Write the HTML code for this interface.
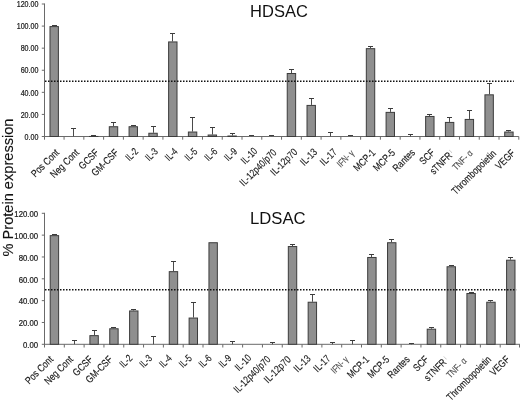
<!DOCTYPE html>
<html lang="en"><head><meta charset="utf-8"><title>Protein expression</title>
<style>html,body{margin:0;padding:0;background:#fff}svg{display:block;will-change:transform;-webkit-font-smoothing:antialiased}</style></head>
<body>
<svg width="520" height="401" viewBox="0 0 520 401" font-family="'Liberation Sans', Arial, sans-serif">
<rect width="520" height="401" fill="#fff"/>
<line x1="44.5" y1="3.50" x2="44.5" y2="137.00" stroke="#6a6a6a" stroke-width="1"/>
<line x1="44.0" y1="136.50" x2="518.8" y2="136.50" stroke="#6a6a6a" stroke-width="1"/>
<line x1="41.8" y1="136.50" x2="44.5" y2="136.50" stroke="#6a6a6a" stroke-width="1"/>
<text transform="translate(38.4,139.70) scale(0.725,1)" text-anchor="end" font-size="9.8" fill="#1a1a1a" stroke="#1a1a1a" stroke-width="0.25">0.00</text>
<line x1="41.8" y1="114.42" x2="44.5" y2="114.42" stroke="#6a6a6a" stroke-width="1"/>
<text transform="translate(38.4,117.62) scale(0.725,1)" text-anchor="end" font-size="9.8" fill="#1a1a1a" stroke="#1a1a1a" stroke-width="0.25">20.00</text>
<line x1="41.8" y1="92.33" x2="44.5" y2="92.33" stroke="#6a6a6a" stroke-width="1"/>
<text transform="translate(38.4,95.53) scale(0.725,1)" text-anchor="end" font-size="9.8" fill="#1a1a1a" stroke="#1a1a1a" stroke-width="0.25">40.00</text>
<line x1="41.8" y1="70.25" x2="44.5" y2="70.25" stroke="#6a6a6a" stroke-width="1"/>
<text transform="translate(38.4,73.45) scale(0.725,1)" text-anchor="end" font-size="9.8" fill="#1a1a1a" stroke="#1a1a1a" stroke-width="0.25">60.00</text>
<line x1="41.8" y1="48.17" x2="44.5" y2="48.17" stroke="#6a6a6a" stroke-width="1"/>
<text transform="translate(38.4,51.37) scale(0.725,1)" text-anchor="end" font-size="9.8" fill="#1a1a1a" stroke="#1a1a1a" stroke-width="0.25">80.00</text>
<line x1="41.8" y1="26.08" x2="44.5" y2="26.08" stroke="#6a6a6a" stroke-width="1"/>
<text transform="translate(38.4,29.28) scale(0.725,1)" text-anchor="end" font-size="9.8" fill="#1a1a1a" stroke="#1a1a1a" stroke-width="0.25">100.00</text>
<line x1="41.8" y1="4.00" x2="44.5" y2="4.00" stroke="#6a6a6a" stroke-width="1"/>
<text transform="translate(38.4,7.20) scale(0.725,1)" text-anchor="end" font-size="9.8" fill="#1a1a1a" stroke="#1a1a1a" stroke-width="0.25">120.00</text>
<line x1="44.50" y1="136.50" x2="44.50" y2="139.70" stroke="#6a6a6a" stroke-width="1"/>
<line x1="64.07" y1="136.50" x2="64.07" y2="139.70" stroke="#6a6a6a" stroke-width="1"/>
<line x1="83.84" y1="136.50" x2="83.84" y2="139.70" stroke="#6a6a6a" stroke-width="1"/>
<line x1="103.61" y1="136.50" x2="103.61" y2="139.70" stroke="#6a6a6a" stroke-width="1"/>
<line x1="123.38" y1="136.50" x2="123.38" y2="139.70" stroke="#6a6a6a" stroke-width="1"/>
<line x1="143.15" y1="136.50" x2="143.15" y2="139.70" stroke="#6a6a6a" stroke-width="1"/>
<line x1="162.93" y1="136.50" x2="162.93" y2="139.70" stroke="#6a6a6a" stroke-width="1"/>
<line x1="182.70" y1="136.50" x2="182.70" y2="139.70" stroke="#6a6a6a" stroke-width="1"/>
<line x1="202.47" y1="136.50" x2="202.47" y2="139.70" stroke="#6a6a6a" stroke-width="1"/>
<line x1="222.24" y1="136.50" x2="222.24" y2="139.70" stroke="#6a6a6a" stroke-width="1"/>
<line x1="242.01" y1="136.50" x2="242.01" y2="139.70" stroke="#6a6a6a" stroke-width="1"/>
<line x1="261.78" y1="136.50" x2="261.78" y2="139.70" stroke="#6a6a6a" stroke-width="1"/>
<line x1="281.55" y1="136.50" x2="281.55" y2="139.70" stroke="#6a6a6a" stroke-width="1"/>
<line x1="301.32" y1="136.50" x2="301.32" y2="139.70" stroke="#6a6a6a" stroke-width="1"/>
<line x1="321.09" y1="136.50" x2="321.09" y2="139.70" stroke="#6a6a6a" stroke-width="1"/>
<line x1="340.86" y1="136.50" x2="340.86" y2="139.70" stroke="#6a6a6a" stroke-width="1"/>
<line x1="360.63" y1="136.50" x2="360.63" y2="139.70" stroke="#6a6a6a" stroke-width="1"/>
<line x1="380.40" y1="136.50" x2="380.40" y2="139.70" stroke="#6a6a6a" stroke-width="1"/>
<line x1="400.18" y1="136.50" x2="400.18" y2="139.70" stroke="#6a6a6a" stroke-width="1"/>
<line x1="419.95" y1="136.50" x2="419.95" y2="139.70" stroke="#6a6a6a" stroke-width="1"/>
<line x1="439.72" y1="136.50" x2="439.72" y2="139.70" stroke="#6a6a6a" stroke-width="1"/>
<line x1="459.49" y1="136.50" x2="459.49" y2="139.70" stroke="#6a6a6a" stroke-width="1"/>
<line x1="479.26" y1="136.50" x2="479.26" y2="139.70" stroke="#6a6a6a" stroke-width="1"/>
<line x1="499.03" y1="136.50" x2="499.03" y2="139.70" stroke="#6a6a6a" stroke-width="1"/>
<line x1="518.80" y1="136.50" x2="518.80" y2="139.70" stroke="#6a6a6a" stroke-width="1"/>
<line x1="54.50" y1="25.50" x2="54.50" y2="26.08" stroke="#4a4a4a" stroke-width="1"/>
<line x1="52.00" y1="25.50" x2="57.00" y2="25.50" stroke="#3c3c3c" stroke-width="1"/>
<rect x="49.99" y="26.58" width="8.40" height="109.92" fill="#8f8f8f" stroke="#3c3c3c" stroke-width="1"/>
<line x1="73.50" y1="128.50" x2="73.50" y2="136.50" stroke="#4a4a4a" stroke-width="1"/>
<line x1="71.00" y1="128.50" x2="76.00" y2="128.50" stroke="#3c3c3c" stroke-width="1"/>
<line x1="93.50" y1="135.50" x2="93.50" y2="135.95" stroke="#4a4a4a" stroke-width="1"/>
<line x1="91.00" y1="135.50" x2="96.00" y2="135.50" stroke="#3c3c3c" stroke-width="1"/>
<rect x="89.53" y="136.45" width="8.40" height="0.05" fill="#8f8f8f" stroke="#3c3c3c" stroke-width="1"/>
<line x1="113.50" y1="122.50" x2="113.50" y2="126.23" stroke="#4a4a4a" stroke-width="1"/>
<line x1="111.00" y1="122.50" x2="116.00" y2="122.50" stroke="#3c3c3c" stroke-width="1"/>
<rect x="109.30" y="126.73" width="8.40" height="9.77" fill="#8f8f8f" stroke="#3c3c3c" stroke-width="1"/>
<line x1="133.50" y1="125.50" x2="133.50" y2="126.23" stroke="#4a4a4a" stroke-width="1"/>
<line x1="131.00" y1="125.50" x2="136.00" y2="125.50" stroke="#3c3c3c" stroke-width="1"/>
<rect x="129.07" y="126.73" width="8.40" height="9.77" fill="#8f8f8f" stroke="#3c3c3c" stroke-width="1"/>
<line x1="153.50" y1="126.50" x2="153.50" y2="132.75" stroke="#4a4a4a" stroke-width="1"/>
<line x1="151.00" y1="126.50" x2="156.00" y2="126.50" stroke="#3c3c3c" stroke-width="1"/>
<rect x="148.84" y="133.25" width="8.40" height="3.25" fill="#8f8f8f" stroke="#3c3c3c" stroke-width="1"/>
<line x1="172.50" y1="33.50" x2="172.50" y2="41.43" stroke="#4a4a4a" stroke-width="1"/>
<line x1="170.00" y1="33.50" x2="175.00" y2="33.50" stroke="#3c3c3c" stroke-width="1"/>
<rect x="168.61" y="41.93" width="8.40" height="94.57" fill="#8f8f8f" stroke="#3c3c3c" stroke-width="1"/>
<line x1="192.50" y1="117.50" x2="192.50" y2="131.53" stroke="#4a4a4a" stroke-width="1"/>
<line x1="190.00" y1="117.50" x2="195.00" y2="117.50" stroke="#3c3c3c" stroke-width="1"/>
<rect x="188.38" y="132.03" width="8.40" height="4.47" fill="#8f8f8f" stroke="#3c3c3c" stroke-width="1"/>
<line x1="212.50" y1="127.50" x2="212.50" y2="134.51" stroke="#4a4a4a" stroke-width="1"/>
<line x1="210.00" y1="127.50" x2="215.00" y2="127.50" stroke="#3c3c3c" stroke-width="1"/>
<rect x="208.15" y="135.01" width="8.40" height="1.49" fill="#8f8f8f" stroke="#3c3c3c" stroke-width="1"/>
<line x1="232.50" y1="133.50" x2="232.50" y2="135.51" stroke="#4a4a4a" stroke-width="1"/>
<line x1="230.00" y1="133.50" x2="235.00" y2="133.50" stroke="#3c3c3c" stroke-width="1"/>
<rect x="227.92" y="136.01" width="8.40" height="0.49" fill="#8f8f8f" stroke="#3c3c3c" stroke-width="1"/>
<line x1="251.50" y1="135.50" x2="251.50" y2="136.17" stroke="#4a4a4a" stroke-width="1"/>
<line x1="249.00" y1="135.50" x2="254.00" y2="135.50" stroke="#3c3c3c" stroke-width="1"/>
<rect x="247.69" y="136.67" width="8.40" height="-0.17" fill="#8f8f8f" stroke="#3c3c3c" stroke-width="1"/>
<line x1="271.50" y1="135.50" x2="271.50" y2="136.17" stroke="#4a4a4a" stroke-width="1"/>
<line x1="269.00" y1="135.50" x2="274.00" y2="135.50" stroke="#3c3c3c" stroke-width="1"/>
<rect x="267.46" y="136.67" width="8.40" height="-0.17" fill="#8f8f8f" stroke="#3c3c3c" stroke-width="1"/>
<line x1="291.50" y1="69.50" x2="291.50" y2="73.01" stroke="#4a4a4a" stroke-width="1"/>
<line x1="289.00" y1="69.50" x2="294.00" y2="69.50" stroke="#3c3c3c" stroke-width="1"/>
<rect x="287.24" y="73.51" width="8.40" height="62.99" fill="#8f8f8f" stroke="#3c3c3c" stroke-width="1"/>
<line x1="311.50" y1="98.50" x2="311.50" y2="104.92" stroke="#4a4a4a" stroke-width="1"/>
<line x1="309.00" y1="98.50" x2="314.00" y2="98.50" stroke="#3c3c3c" stroke-width="1"/>
<rect x="307.01" y="105.42" width="8.40" height="31.08" fill="#8f8f8f" stroke="#3c3c3c" stroke-width="1"/>
<line x1="330.50" y1="132.50" x2="330.50" y2="136.50" stroke="#4a4a4a" stroke-width="1"/>
<line x1="328.00" y1="132.50" x2="333.00" y2="132.50" stroke="#3c3c3c" stroke-width="1"/>
<line x1="350.50" y1="135.50" x2="350.50" y2="136.17" stroke="#4a4a4a" stroke-width="1"/>
<line x1="348.00" y1="135.50" x2="353.00" y2="135.50" stroke="#3c3c3c" stroke-width="1"/>
<rect x="346.55" y="136.67" width="8.40" height="-0.17" fill="#8f8f8f" stroke="#3c3c3c" stroke-width="1"/>
<line x1="370.50" y1="46.50" x2="370.50" y2="48.17" stroke="#4a4a4a" stroke-width="1"/>
<line x1="368.00" y1="46.50" x2="373.00" y2="46.50" stroke="#3c3c3c" stroke-width="1"/>
<rect x="366.32" y="48.67" width="8.40" height="87.83" fill="#8f8f8f" stroke="#3c3c3c" stroke-width="1"/>
<line x1="390.50" y1="108.50" x2="390.50" y2="111.88" stroke="#4a4a4a" stroke-width="1"/>
<line x1="388.00" y1="108.50" x2="393.00" y2="108.50" stroke="#3c3c3c" stroke-width="1"/>
<rect x="386.09" y="112.38" width="8.40" height="24.12" fill="#8f8f8f" stroke="#3c3c3c" stroke-width="1"/>
<line x1="410.50" y1="134.50" x2="410.50" y2="136.50" stroke="#4a4a4a" stroke-width="1"/>
<line x1="408.00" y1="134.50" x2="413.00" y2="134.50" stroke="#3c3c3c" stroke-width="1"/>
<line x1="429.50" y1="114.50" x2="429.50" y2="115.96" stroke="#4a4a4a" stroke-width="1"/>
<line x1="427.00" y1="114.50" x2="432.00" y2="114.50" stroke="#3c3c3c" stroke-width="1"/>
<rect x="425.63" y="116.46" width="8.40" height="20.04" fill="#8f8f8f" stroke="#3c3c3c" stroke-width="1"/>
<line x1="449.50" y1="117.50" x2="449.50" y2="121.92" stroke="#4a4a4a" stroke-width="1"/>
<line x1="447.00" y1="117.50" x2="452.00" y2="117.50" stroke="#3c3c3c" stroke-width="1"/>
<rect x="445.40" y="122.42" width="8.40" height="14.08" fill="#8f8f8f" stroke="#3c3c3c" stroke-width="1"/>
<line x1="469.50" y1="110.50" x2="469.50" y2="118.94" stroke="#4a4a4a" stroke-width="1"/>
<line x1="467.00" y1="110.50" x2="472.00" y2="110.50" stroke="#3c3c3c" stroke-width="1"/>
<rect x="465.17" y="119.44" width="8.40" height="17.06" fill="#8f8f8f" stroke="#3c3c3c" stroke-width="1"/>
<line x1="489.50" y1="83.50" x2="489.50" y2="94.32" stroke="#4a4a4a" stroke-width="1"/>
<line x1="487.00" y1="83.50" x2="492.00" y2="83.50" stroke="#3c3c3c" stroke-width="1"/>
<rect x="484.94" y="94.82" width="8.40" height="41.68" fill="#8f8f8f" stroke="#3c3c3c" stroke-width="1"/>
<line x1="508.50" y1="130.50" x2="508.50" y2="131.53" stroke="#4a4a4a" stroke-width="1"/>
<line x1="506.00" y1="130.50" x2="511.00" y2="130.50" stroke="#3c3c3c" stroke-width="1"/>
<rect x="504.71" y="132.03" width="8.40" height="4.47" fill="#8f8f8f" stroke="#3c3c3c" stroke-width="1"/>
<line x1="45.00" y1="81.29" x2="513.8" y2="81.29" stroke="#111" stroke-width="1.5" stroke-dasharray="1.5 1.5"/>
<text transform="translate(59.79,153.30) rotate(-45) scale(0.820,1)" text-anchor="end" font-size="10.3" fill="#1a1a1a" stroke="#1a1a1a" stroke-width="0.15">Pos Cont</text>
<text transform="translate(79.56,153.30) rotate(-45) scale(0.820,1)" text-anchor="end" font-size="10.3" fill="#1a1a1a" stroke="#1a1a1a" stroke-width="0.15">Neg Cont</text>
<text transform="translate(99.33,153.30) rotate(-45) scale(0.820,1)" text-anchor="end" font-size="10.3" fill="#1a1a1a" stroke="#1a1a1a" stroke-width="0.15">GCSF</text>
<text transform="translate(119.10,153.30) rotate(-45) scale(0.820,1)" text-anchor="end" font-size="10.3" fill="#1a1a1a" stroke="#1a1a1a" stroke-width="0.15">GM-CSF</text>
<text transform="translate(138.87,152.10) rotate(-45) scale(0.755,1)" text-anchor="end" font-size="10.3" fill="#1a1a1a" stroke="#1a1a1a" stroke-width="0.15">IL-2</text>
<text transform="translate(158.64,152.10) rotate(-45) scale(0.755,1)" text-anchor="end" font-size="10.3" fill="#1a1a1a" stroke="#1a1a1a" stroke-width="0.15">IL-3</text>
<text transform="translate(178.41,152.10) rotate(-45) scale(0.755,1)" text-anchor="end" font-size="10.3" fill="#1a1a1a" stroke="#1a1a1a" stroke-width="0.15">IL-4</text>
<text transform="translate(198.18,152.10) rotate(-45) scale(0.755,1)" text-anchor="end" font-size="10.3" fill="#1a1a1a" stroke="#1a1a1a" stroke-width="0.15">IL-5</text>
<text transform="translate(217.95,152.10) rotate(-45) scale(0.755,1)" text-anchor="end" font-size="10.3" fill="#1a1a1a" stroke="#1a1a1a" stroke-width="0.15">IL-6</text>
<text transform="translate(237.72,152.10) rotate(-45) scale(0.755,1)" text-anchor="end" font-size="10.3" fill="#1a1a1a" stroke="#1a1a1a" stroke-width="0.15">IL-9</text>
<text transform="translate(257.99,151.80) rotate(-45) scale(0.779,1)" text-anchor="end" font-size="10.3" fill="#1a1a1a" stroke="#1a1a1a" stroke-width="0.15">IL-10</text>
<text transform="translate(277.26,153.30) rotate(-45) scale(0.779,1)" text-anchor="end" font-size="10.3" fill="#1a1a1a" stroke="#1a1a1a" stroke-width="0.15">IL-12p40/p70</text>
<text transform="translate(298.04,152.60) rotate(-45) scale(0.820,1)" text-anchor="end" font-size="10.3" fill="#1a1a1a" stroke="#1a1a1a" stroke-width="0.15">IL-12p70</text>
<text transform="translate(317.81,152.60) rotate(-45) scale(0.820,1)" text-anchor="end" font-size="10.3" fill="#1a1a1a" stroke="#1a1a1a" stroke-width="0.15">IL-13</text>
<text transform="translate(337.58,152.60) rotate(-45) scale(0.820,1)" text-anchor="end" font-size="10.3" fill="#1a1a1a" stroke="#1a1a1a" stroke-width="0.15">IL-17</text>
<text transform="translate(354.85,153.80) rotate(-45) scale(0.766,1)" text-anchor="end" font-size="9.6" fill="#505050" stroke="#505050" stroke-width="0.1">IFN- γ</text>
<text transform="translate(376.12,153.30) rotate(-45) scale(0.820,1)" text-anchor="end" font-size="10.3" fill="#1a1a1a" stroke="#1a1a1a" stroke-width="0.15">MCP-1</text>
<text transform="translate(395.89,153.30) rotate(-45) scale(0.820,1)" text-anchor="end" font-size="10.3" fill="#1a1a1a" stroke="#1a1a1a" stroke-width="0.15">MCP-5</text>
<text transform="translate(415.66,153.30) rotate(-45) scale(0.820,1)" text-anchor="end" font-size="10.3" fill="#1a1a1a" stroke="#1a1a1a" stroke-width="0.15">Rantes</text>
<text transform="translate(435.43,153.30) rotate(-45) scale(0.820,1)" text-anchor="end" font-size="10.3" fill="#1a1a1a" stroke="#1a1a1a" stroke-width="0.15">SCF</text>
<text transform="translate(454.70,154.30) rotate(-45) scale(0.820,1)" text-anchor="end" font-size="10.3" fill="#1a1a1a" stroke="#1a1a1a" stroke-width="0.15">sTNFR<tspan dy="-3" font-size="6" fill="#b5b5b5" stroke="none"> I</tspan></text>
<text transform="translate(473.47,153.80) rotate(-45) scale(0.810,1)" text-anchor="end" font-size="9.6" fill="#505050" stroke="#505050" stroke-width="0.1">TNF- α</text>
<text transform="translate(496.74,154.10) rotate(-45) scale(0.812,1)" text-anchor="end" font-size="10.3" fill="#1a1a1a" stroke="#1a1a1a" stroke-width="0.15">Thrombopoietin</text>
<text transform="translate(515.71,153.80) rotate(-45) scale(0.820,1)" text-anchor="end" font-size="10.3" fill="#1a1a1a" stroke="#1a1a1a" stroke-width="0.15">VEGF</text>
<text x="279.0" y="17.1" text-anchor="middle" font-size="16.5" fill="#111">HDSAC</text>
<line x1="44.5" y1="212.80" x2="44.5" y2="344.80" stroke="#6a6a6a" stroke-width="1"/>
<line x1="44.0" y1="344.30" x2="520.0" y2="344.30" stroke="#6a6a6a" stroke-width="1"/>
<line x1="41.8" y1="344.30" x2="44.5" y2="344.30" stroke="#6a6a6a" stroke-width="1"/>
<text transform="translate(38.1,348.10) scale(0.794,1)" text-anchor="end" font-size="9.8" fill="#1a1a1a" stroke="#1a1a1a" stroke-width="0.25">0.00</text>
<line x1="41.8" y1="322.47" x2="44.5" y2="322.47" stroke="#6a6a6a" stroke-width="1"/>
<text transform="translate(38.1,326.27) scale(0.794,1)" text-anchor="end" font-size="9.8" fill="#1a1a1a" stroke="#1a1a1a" stroke-width="0.25">20.00</text>
<line x1="41.8" y1="300.63" x2="44.5" y2="300.63" stroke="#6a6a6a" stroke-width="1"/>
<text transform="translate(38.1,304.43) scale(0.794,1)" text-anchor="end" font-size="9.8" fill="#1a1a1a" stroke="#1a1a1a" stroke-width="0.25">40.00</text>
<line x1="41.8" y1="278.80" x2="44.5" y2="278.80" stroke="#6a6a6a" stroke-width="1"/>
<text transform="translate(38.1,282.60) scale(0.794,1)" text-anchor="end" font-size="9.8" fill="#1a1a1a" stroke="#1a1a1a" stroke-width="0.25">60.00</text>
<line x1="41.8" y1="256.97" x2="44.5" y2="256.97" stroke="#6a6a6a" stroke-width="1"/>
<text transform="translate(38.1,260.77) scale(0.794,1)" text-anchor="end" font-size="9.8" fill="#1a1a1a" stroke="#1a1a1a" stroke-width="0.25">80.00</text>
<line x1="41.8" y1="235.13" x2="44.5" y2="235.13" stroke="#6a6a6a" stroke-width="1"/>
<text transform="translate(38.1,238.93) scale(0.794,1)" text-anchor="end" font-size="9.8" fill="#1a1a1a" stroke="#1a1a1a" stroke-width="0.25">100.00</text>
<line x1="41.8" y1="213.30" x2="44.5" y2="213.30" stroke="#6a6a6a" stroke-width="1"/>
<text transform="translate(38.1,217.10) scale(0.794,1)" text-anchor="end" font-size="9.8" fill="#1a1a1a" stroke="#1a1a1a" stroke-width="0.25">120.00</text>
<line x1="44.50" y1="344.30" x2="44.50" y2="347.50" stroke="#6a6a6a" stroke-width="1"/>
<line x1="64.31" y1="344.30" x2="64.31" y2="347.50" stroke="#6a6a6a" stroke-width="1"/>
<line x1="84.12" y1="344.30" x2="84.12" y2="347.50" stroke="#6a6a6a" stroke-width="1"/>
<line x1="103.94" y1="344.30" x2="103.94" y2="347.50" stroke="#6a6a6a" stroke-width="1"/>
<line x1="123.75" y1="344.30" x2="123.75" y2="347.50" stroke="#6a6a6a" stroke-width="1"/>
<line x1="143.56" y1="344.30" x2="143.56" y2="347.50" stroke="#6a6a6a" stroke-width="1"/>
<line x1="163.38" y1="344.30" x2="163.38" y2="347.50" stroke="#6a6a6a" stroke-width="1"/>
<line x1="183.19" y1="344.30" x2="183.19" y2="347.50" stroke="#6a6a6a" stroke-width="1"/>
<line x1="203.00" y1="344.30" x2="203.00" y2="347.50" stroke="#6a6a6a" stroke-width="1"/>
<line x1="222.81" y1="344.30" x2="222.81" y2="347.50" stroke="#6a6a6a" stroke-width="1"/>
<line x1="242.62" y1="344.30" x2="242.62" y2="347.50" stroke="#6a6a6a" stroke-width="1"/>
<line x1="262.44" y1="344.30" x2="262.44" y2="347.50" stroke="#6a6a6a" stroke-width="1"/>
<line x1="282.25" y1="344.30" x2="282.25" y2="347.50" stroke="#6a6a6a" stroke-width="1"/>
<line x1="302.06" y1="344.30" x2="302.06" y2="347.50" stroke="#6a6a6a" stroke-width="1"/>
<line x1="321.88" y1="344.30" x2="321.88" y2="347.50" stroke="#6a6a6a" stroke-width="1"/>
<line x1="341.69" y1="344.30" x2="341.69" y2="347.50" stroke="#6a6a6a" stroke-width="1"/>
<line x1="361.50" y1="344.30" x2="361.50" y2="347.50" stroke="#6a6a6a" stroke-width="1"/>
<line x1="381.31" y1="344.30" x2="381.31" y2="347.50" stroke="#6a6a6a" stroke-width="1"/>
<line x1="401.12" y1="344.30" x2="401.12" y2="347.50" stroke="#6a6a6a" stroke-width="1"/>
<line x1="420.94" y1="344.30" x2="420.94" y2="347.50" stroke="#6a6a6a" stroke-width="1"/>
<line x1="440.75" y1="344.30" x2="440.75" y2="347.50" stroke="#6a6a6a" stroke-width="1"/>
<line x1="460.56" y1="344.30" x2="460.56" y2="347.50" stroke="#6a6a6a" stroke-width="1"/>
<line x1="480.38" y1="344.30" x2="480.38" y2="347.50" stroke="#6a6a6a" stroke-width="1"/>
<line x1="500.19" y1="344.30" x2="500.19" y2="347.50" stroke="#6a6a6a" stroke-width="1"/>
<line x1="519.50" y1="344.30" x2="519.50" y2="347.50" stroke="#6a6a6a" stroke-width="1"/>
<line x1="54.50" y1="234.50" x2="54.50" y2="235.13" stroke="#4a4a4a" stroke-width="1"/>
<line x1="52.00" y1="234.50" x2="57.00" y2="234.50" stroke="#3c3c3c" stroke-width="1"/>
<rect x="50.21" y="235.63" width="8.40" height="108.67" fill="#8f8f8f" stroke="#3c3c3c" stroke-width="1"/>
<line x1="74.50" y1="340.50" x2="74.50" y2="344.30" stroke="#4a4a4a" stroke-width="1"/>
<line x1="72.00" y1="340.50" x2="77.00" y2="340.50" stroke="#3c3c3c" stroke-width="1"/>
<line x1="94.50" y1="330.50" x2="94.50" y2="335.13" stroke="#4a4a4a" stroke-width="1"/>
<line x1="92.00" y1="330.50" x2="97.00" y2="330.50" stroke="#3c3c3c" stroke-width="1"/>
<rect x="89.89" y="335.63" width="8.40" height="8.67" fill="#8f8f8f" stroke="#3c3c3c" stroke-width="1"/>
<line x1="113.50" y1="327.50" x2="113.50" y2="328.25" stroke="#4a4a4a" stroke-width="1"/>
<line x1="111.00" y1="327.50" x2="116.00" y2="327.50" stroke="#3c3c3c" stroke-width="1"/>
<rect x="109.74" y="328.75" width="8.40" height="15.55" fill="#8f8f8f" stroke="#3c3c3c" stroke-width="1"/>
<line x1="133.50" y1="309.50" x2="133.50" y2="310.46" stroke="#4a4a4a" stroke-width="1"/>
<line x1="131.00" y1="309.50" x2="136.00" y2="309.50" stroke="#3c3c3c" stroke-width="1"/>
<rect x="129.58" y="310.96" width="8.40" height="33.34" fill="#8f8f8f" stroke="#3c3c3c" stroke-width="1"/>
<line x1="153.50" y1="336.50" x2="153.50" y2="344.30" stroke="#4a4a4a" stroke-width="1"/>
<line x1="151.00" y1="336.50" x2="156.00" y2="336.50" stroke="#3c3c3c" stroke-width="1"/>
<line x1="173.50" y1="261.50" x2="173.50" y2="271.16" stroke="#4a4a4a" stroke-width="1"/>
<line x1="171.00" y1="261.50" x2="176.00" y2="261.50" stroke="#3c3c3c" stroke-width="1"/>
<rect x="169.26" y="271.66" width="8.40" height="72.64" fill="#8f8f8f" stroke="#3c3c3c" stroke-width="1"/>
<line x1="193.50" y1="302.50" x2="193.50" y2="317.55" stroke="#4a4a4a" stroke-width="1"/>
<line x1="191.00" y1="302.50" x2="196.00" y2="302.50" stroke="#3c3c3c" stroke-width="1"/>
<rect x="189.11" y="318.05" width="8.40" height="26.25" fill="#8f8f8f" stroke="#3c3c3c" stroke-width="1"/>
<rect x="208.95" y="242.73" width="8.40" height="101.57" fill="#8f8f8f" stroke="#3c3c3c" stroke-width="1"/>
<line x1="232.50" y1="341.50" x2="232.50" y2="344.30" stroke="#4a4a4a" stroke-width="1"/>
<line x1="230.00" y1="341.50" x2="235.00" y2="341.50" stroke="#3c3c3c" stroke-width="1"/>
<line x1="272.50" y1="342.50" x2="272.50" y2="344.30" stroke="#4a4a4a" stroke-width="1"/>
<line x1="270.00" y1="342.50" x2="275.00" y2="342.50" stroke="#3c3c3c" stroke-width="1"/>
<line x1="292.50" y1="244.50" x2="292.50" y2="246.05" stroke="#4a4a4a" stroke-width="1"/>
<line x1="290.00" y1="244.50" x2="295.00" y2="244.50" stroke="#3c3c3c" stroke-width="1"/>
<rect x="288.32" y="246.55" width="8.40" height="97.75" fill="#8f8f8f" stroke="#3c3c3c" stroke-width="1"/>
<line x1="312.50" y1="294.50" x2="312.50" y2="301.73" stroke="#4a4a4a" stroke-width="1"/>
<line x1="310.00" y1="294.50" x2="315.00" y2="294.50" stroke="#3c3c3c" stroke-width="1"/>
<rect x="308.16" y="302.23" width="8.40" height="42.07" fill="#8f8f8f" stroke="#3c3c3c" stroke-width="1"/>
<line x1="332.50" y1="342.50" x2="332.50" y2="344.30" stroke="#4a4a4a" stroke-width="1"/>
<line x1="330.00" y1="342.50" x2="335.00" y2="342.50" stroke="#3c3c3c" stroke-width="1"/>
<line x1="352.50" y1="340.50" x2="352.50" y2="344.30" stroke="#4a4a4a" stroke-width="1"/>
<line x1="350.00" y1="340.50" x2="355.00" y2="340.50" stroke="#3c3c3c" stroke-width="1"/>
<line x1="371.50" y1="254.50" x2="371.50" y2="256.97" stroke="#4a4a4a" stroke-width="1"/>
<line x1="369.00" y1="254.50" x2="374.00" y2="254.50" stroke="#3c3c3c" stroke-width="1"/>
<rect x="367.69" y="257.47" width="8.40" height="86.83" fill="#8f8f8f" stroke="#3c3c3c" stroke-width="1"/>
<line x1="391.50" y1="239.50" x2="391.50" y2="242.23" stroke="#4a4a4a" stroke-width="1"/>
<line x1="389.00" y1="239.50" x2="394.00" y2="239.50" stroke="#3c3c3c" stroke-width="1"/>
<rect x="387.54" y="242.73" width="8.40" height="101.57" fill="#8f8f8f" stroke="#3c3c3c" stroke-width="1"/>
<line x1="411.50" y1="343.50" x2="411.50" y2="344.30" stroke="#4a4a4a" stroke-width="1"/>
<line x1="409.00" y1="343.50" x2="414.00" y2="343.50" stroke="#3c3c3c" stroke-width="1"/>
<line x1="431.50" y1="327.50" x2="431.50" y2="328.69" stroke="#4a4a4a" stroke-width="1"/>
<line x1="429.00" y1="327.50" x2="434.00" y2="327.50" stroke="#3c3c3c" stroke-width="1"/>
<rect x="427.22" y="329.19" width="8.40" height="15.11" fill="#8f8f8f" stroke="#3c3c3c" stroke-width="1"/>
<line x1="451.50" y1="265.50" x2="451.50" y2="266.25" stroke="#4a4a4a" stroke-width="1"/>
<line x1="449.00" y1="265.50" x2="454.00" y2="265.50" stroke="#3c3c3c" stroke-width="1"/>
<rect x="447.06" y="266.75" width="8.40" height="77.55" fill="#8f8f8f" stroke="#3c3c3c" stroke-width="1"/>
<line x1="471.50" y1="292.50" x2="471.50" y2="292.99" stroke="#4a4a4a" stroke-width="1"/>
<line x1="469.00" y1="292.50" x2="474.00" y2="292.50" stroke="#3c3c3c" stroke-width="1"/>
<rect x="466.91" y="293.49" width="8.40" height="50.81" fill="#8f8f8f" stroke="#3c3c3c" stroke-width="1"/>
<line x1="490.50" y1="300.50" x2="490.50" y2="301.73" stroke="#4a4a4a" stroke-width="1"/>
<line x1="488.00" y1="300.50" x2="493.00" y2="300.50" stroke="#3c3c3c" stroke-width="1"/>
<rect x="486.75" y="302.23" width="8.40" height="42.07" fill="#8f8f8f" stroke="#3c3c3c" stroke-width="1"/>
<line x1="510.50" y1="257.50" x2="510.50" y2="259.70" stroke="#4a4a4a" stroke-width="1"/>
<line x1="508.00" y1="257.50" x2="513.00" y2="257.50" stroke="#3c3c3c" stroke-width="1"/>
<rect x="506.59" y="260.20" width="8.40" height="84.10" fill="#8f8f8f" stroke="#3c3c3c" stroke-width="1"/>
<line x1="45.00" y1="289.72" x2="516.2" y2="289.72" stroke="#111" stroke-width="1.5" stroke-dasharray="1.5 1.5"/>
<text transform="translate(53.81,360.10) rotate(-45) scale(0.820,1)" text-anchor="end" font-size="10.3" fill="#1a1a1a" stroke="#1a1a1a" stroke-width="0.15">Pos Cont</text>
<text transform="translate(73.62,360.10) rotate(-45) scale(0.820,1)" text-anchor="end" font-size="10.3" fill="#1a1a1a" stroke="#1a1a1a" stroke-width="0.15">Neg Cont</text>
<text transform="translate(93.43,360.10) rotate(-45) scale(0.820,1)" text-anchor="end" font-size="10.3" fill="#1a1a1a" stroke="#1a1a1a" stroke-width="0.15">GCSF</text>
<text transform="translate(113.24,360.10) rotate(-45) scale(0.820,1)" text-anchor="end" font-size="10.3" fill="#1a1a1a" stroke="#1a1a1a" stroke-width="0.15">GM-CSF</text>
<text transform="translate(133.06,358.90) rotate(-45) scale(0.755,1)" text-anchor="end" font-size="10.3" fill="#1a1a1a" stroke="#1a1a1a" stroke-width="0.15">IL-2</text>
<text transform="translate(152.87,358.90) rotate(-45) scale(0.755,1)" text-anchor="end" font-size="10.3" fill="#1a1a1a" stroke="#1a1a1a" stroke-width="0.15">IL-3</text>
<text transform="translate(172.68,358.90) rotate(-45) scale(0.755,1)" text-anchor="end" font-size="10.3" fill="#1a1a1a" stroke="#1a1a1a" stroke-width="0.15">IL-4</text>
<text transform="translate(192.49,358.90) rotate(-45) scale(0.755,1)" text-anchor="end" font-size="10.3" fill="#1a1a1a" stroke="#1a1a1a" stroke-width="0.15">IL-5</text>
<text transform="translate(212.31,358.90) rotate(-45) scale(0.755,1)" text-anchor="end" font-size="10.3" fill="#1a1a1a" stroke="#1a1a1a" stroke-width="0.15">IL-6</text>
<text transform="translate(232.12,358.90) rotate(-45) scale(0.755,1)" text-anchor="end" font-size="10.3" fill="#1a1a1a" stroke="#1a1a1a" stroke-width="0.15">IL-9</text>
<text transform="translate(251.93,358.60) rotate(-45) scale(0.779,1)" text-anchor="end" font-size="10.3" fill="#1a1a1a" stroke="#1a1a1a" stroke-width="0.15">IL-10</text>
<text transform="translate(271.24,360.10) rotate(-45) scale(0.779,1)" text-anchor="end" font-size="10.3" fill="#1a1a1a" stroke="#1a1a1a" stroke-width="0.15">IL-12p40/p70</text>
<text transform="translate(291.56,360.10) rotate(-45) scale(0.820,1)" text-anchor="end" font-size="10.3" fill="#1a1a1a" stroke="#1a1a1a" stroke-width="0.15">IL-12p70</text>
<text transform="translate(311.37,359.10) rotate(-45) scale(0.820,1)" text-anchor="end" font-size="10.3" fill="#1a1a1a" stroke="#1a1a1a" stroke-width="0.15">IL-13</text>
<text transform="translate(331.18,359.10) rotate(-45) scale(0.820,1)" text-anchor="end" font-size="10.3" fill="#1a1a1a" stroke="#1a1a1a" stroke-width="0.15">IL-17</text>
<text transform="translate(348.99,360.10) rotate(-45) scale(0.766,1)" text-anchor="end" font-size="9.6" fill="#505050" stroke="#505050" stroke-width="0.1">IFN- γ</text>
<text transform="translate(369.81,360.10) rotate(-45) scale(0.820,1)" text-anchor="end" font-size="10.3" fill="#1a1a1a" stroke="#1a1a1a" stroke-width="0.15">MCP-1</text>
<text transform="translate(390.12,360.10) rotate(-45) scale(0.820,1)" text-anchor="end" font-size="10.3" fill="#1a1a1a" stroke="#1a1a1a" stroke-width="0.15">MCP-5</text>
<text transform="translate(410.43,360.10) rotate(-45) scale(0.820,1)" text-anchor="end" font-size="10.3" fill="#1a1a1a" stroke="#1a1a1a" stroke-width="0.15">Rantes</text>
<text transform="translate(429.24,360.10) rotate(-45) scale(0.820,1)" text-anchor="end" font-size="10.3" fill="#1a1a1a" stroke="#1a1a1a" stroke-width="0.15">SCF</text>
<text transform="translate(449.06,360.90) rotate(-45) scale(0.820,1)" text-anchor="end" font-size="10.3" fill="#1a1a1a" stroke="#1a1a1a" stroke-width="0.15">sTNFR<tspan dy="-3" font-size="6" fill="#b5b5b5" stroke="none"> I</tspan></text>
<text transform="translate(467.37,361.60) rotate(-45) scale(0.810,1)" text-anchor="end" font-size="9.6" fill="#505050" stroke="#505050" stroke-width="0.1">TNF- α</text>
<text transform="translate(491.88,360.10) rotate(-45) scale(0.812,1)" text-anchor="end" font-size="10.3" fill="#1a1a1a" stroke="#1a1a1a" stroke-width="0.15">Thrombopoietin</text>
<text transform="translate(510.29,360.10) rotate(-45) scale(0.820,1)" text-anchor="end" font-size="10.3" fill="#1a1a1a" stroke="#1a1a1a" stroke-width="0.15">VEGF</text>
<text x="277.8" y="224.3" text-anchor="middle" font-size="16.7" fill="#111">LDSAC</text>
<text transform="translate(13.3,187.5) rotate(-90)" text-anchor="middle" font-size="14.6" fill="#111" stroke="#111" stroke-width="0.15">% Protein expression</text>
</svg>
</body></html>
